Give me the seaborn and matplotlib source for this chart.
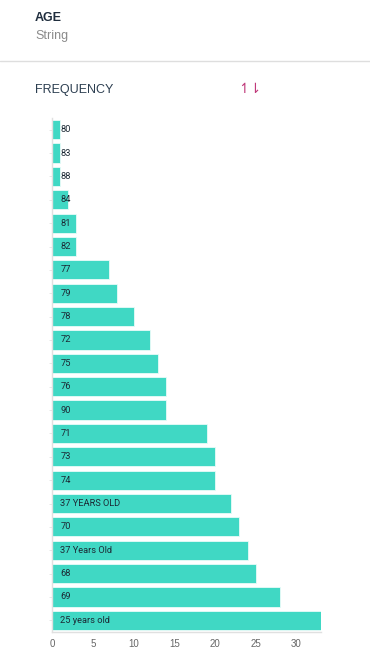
import matplotlib
matplotlib.use("Agg")
import matplotlib.pyplot as plt
import seaborn as sns
import pandas as pd

# frequency of AGE values
labels = ["80", "83", "88", "84", "81", "82", "77", "79", "78", "72", "75",
          "76", "90", "71", "73", "74", "37 YEARS OLD", "70", "37 Years Old",
          "68", "69", "25 years old"]
counts = [1, 1, 1, 2, 3, 3, 7, 8, 10, 12, 13,
          14, 14, 19, 20, 20, 22, 23, 24,
          25, 28, 33]
xticks = [0, 5, 10, 15, 20, 25, 30]

df = pd.DataFrame({"age": labels, "count": counts})

sns.set_theme(style="white")
plt.rcParams["font.family"] = ["Liberation Sans", "DejaVu Sans"]

fig = plt.figure(figsize=(3.70, 6.61), dpi=100)
ax = fig.add_axes([52 / 370, 1 - 632 / 661, 269 / 370, 514 / 661])

sns.barplot(data=df, x="count", y="age", orient="h", color="#40d8c4",
            saturation=1, width=0.82, edgecolor="#e8fbf8", linewidth=0.6, ax=ax)

for i, lab in enumerate(labels):
    ax.annotate(lab, xy=(0, i), xytext=(6, 0), textcoords="offset points",
                va="center", ha="left", fontsize=6.7, color="#1c2a35",
                family=["Roboto", "DejaVu Sans"])

ax.set_xlim(0, 33)
ax.set_ylim(len(labels) - 0.5, -0.5)
ax.set_xticks(xticks)
ax.set_yticks(range(len(labels)))
ax.set_yticklabels([])
ax.set_xlabel("")
ax.set_ylabel("")
ax.tick_params(axis="x", labelsize=7, colors="#666666", length=3, width=0.6,
               color="#d0d0d0", pad=2)
ax.tick_params(axis="y", length=2, width=0.5, color="#dddddd", left=True)
for s in ["top", "right"]:
    ax.spines[s].set_visible(False)
for s in ["left", "bottom"]:
    ax.spines[s].set_color("#e0e0e0")
    ax.spines[s].set_linewidth(1.0)
ax.grid(False)

# header texts
fig.text(35 / 370, 1 - 18 / 661, "AGE", fontsize=9, fontweight="bold",
         color="#1f2d3d", va="center", ha="left")
fig.text(35 / 370, 1 - 36 / 661, "String", fontsize=9, color="#8a8a8a",
         va="center", ha="left")
fig.add_artist(plt.Line2D([0, 1], [1 - 61 / 661, 1 - 61 / 661],
                          color="#dedede", linewidth=1.0))
fig.text(35 / 370, 1 - 90 / 661, "FREQUENCY", fontsize=9, color="#2c3e50",
         va="center", ha="left")
fig.text(250 / 370, 1 - 89 / 661, "↿⇂", fontsize=10, color="#c0397a",
         va="center", ha="center", family=["DejaVu Sans"])

fig.savefig("out.png", dpi=100)
